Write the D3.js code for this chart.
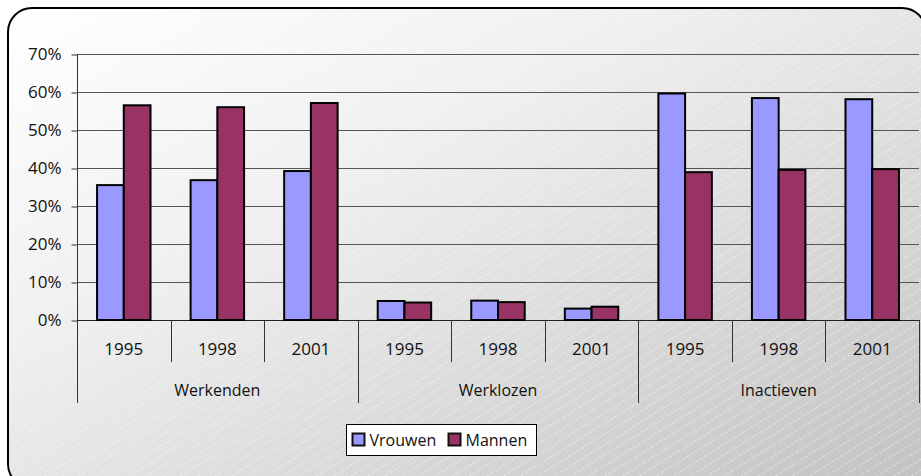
<!DOCTYPE html>
<html>
<head>
<meta charset="utf-8">
<script src="https://cdn.jsdelivr.net/npm/d3@7"></script>
<style>
  html, body { margin: 0; padding: 0; background: #fff; }
  svg { display: block; font-family: "Open Sans", sans-serif; }
</style>
</head>
<body>
<div id="chart"></div>
<script>
const width = 921;
const height = 476;

// Data
const groups = ["Werkenden", "Werklozen", "Inactieven"];
const years = ["1995", "1998", "2001"];
const seriesNames = ["Vrouwen", "Mannen"];
const vrouwen = [0.355, 0.368, 0.392, 0.050, 0.051, 0.030, 0.596, 0.584, 0.581];
const mannen = [0.565, 0.560, 0.571, 0.046, 0.047, 0.035, 0.389, 0.395, 0.397];
const yTicks = [0, 0.1, 0.2, 0.3, 0.4, 0.5, 0.6, 0.7];
const colors = ["#9999ff", "#993366"];

const plot = { left: 77, right: 919, top: 54, bottom: 320 };

// one entry per category (group x year)
const cats = [];
groups.forEach((g, gi) => years.forEach((y, yi) => {
    const i = gi * years.length + yi;
    cats.push({ key: g + "-" + y, group: g, year: y, values: [vrouwen[i], mannen[i]] });
}));

const svg = d3.select("#chart").append("svg")
    .attr("width", width)
    .attr("height", height);

const defs = svg.append("defs");

// background gradient
const grad = defs.append("linearGradient")
    .attr("id", "bg")
    .attr("x1", "0%").attr("y1", "0%")
    .attr("x2", "100%").attr("y2", "100%");
grad.append("stop").attr("offset", "0%").attr("stop-color", "#ffffff");
grad.append("stop").attr("offset", "35%").attr("stop-color", "#f0f0f0");
grad.append("stop").attr("offset", "100%").attr("stop-color", "#c2c2c2");

// faint diagonal dashed lines
const pat = defs.append("pattern")
    .attr("id", "hatch")
    .attr("patternUnits", "userSpaceOnUse")
    .attr("width", 40).attr("height", 9)
    .attr("patternTransform", "rotate(-32)");
pat.append("line")
    .attr("x1", 0).attr("y1", 4.5).attr("x2", 40).attr("y2", 4.5)
    .attr("stroke", "#ffffff")
    .attr("stroke-opacity", 0.55)
    .attr("stroke-width", 0.8)
    .attr("stroke-dasharray", "3,2");

// frame
svg.append("rect")
    .attr("x", 8).attr("y", 8)
    .attr("width", 918).attr("height", 480)
    .attr("rx", 24).attr("ry", 24)
    .attr("fill", "url(#bg)");
svg.append("rect")
    .attr("x", 8).attr("y", 8)
    .attr("width", 918).attr("height", 480)
    .attr("rx", 24).attr("ry", 24)
    .attr("fill", "url(#hatch)")
    .attr("stroke", "#000")
    .attr("stroke-width", 2);

// scales
const x0 = d3.scaleBand()
    .domain(cats.map(d => d.key))
    .range([plot.left, plot.right])
    .padding(0);

const x1 = d3.scaleBand()
    .domain(seriesNames)
    .range([0, x0.bandwidth()])
    .paddingInner(0)
    .paddingOuter(0.75);

const y = d3.scaleLinear()
    .domain([0, 0.7])
    .range([plot.bottom, plot.top]);

// gridlines
svg.append("g")
    .selectAll("line")
    .data(yTicks)
    .enter().append("line")
    .attr("x1", plot.left)
    .attr("x2", plot.right)
    .attr("y1", d => Math.round(y(d)) + 0.5)
    .attr("y2", d => Math.round(y(d)) + 0.5)
    .attr("stroke", "#555")
    .attr("stroke-width", 1);

// y axis
const yAxis = svg.append("g")
    .attr("transform", `translate(${plot.left + 0.5},0.5)`)
    .call(d3.axisLeft(y)
        .tickValues(yTicks)
        .tickFormat(d3.format(".0%"))
        .tickSize(6)
        .tickSizeOuter(0)
        .tickPadding(10));
yAxis.select(".domain").remove();
yAxis.selectAll(".tick line").attr("stroke", "#333");
yAxis.selectAll(".tick text")
    .style("font-size", "17px")
    .style("font-family", "'Open Sans', sans-serif")
    .attr("fill", "#111");

// vertical axis line, running down through the category labels
svg.append("line")
    .attr("x1", plot.left + 0.5).attr("x2", plot.left + 0.5)
    .attr("y1", plot.top).attr("y2", 403)
    .attr("stroke", "#333");

// x axis line
svg.append("line")
    .attr("x1", plot.left).attr("x2", plot.right)
    .attr("y1", plot.bottom + 0.5).attr("y2", plot.bottom + 0.5)
    .attr("stroke", "#222");

// bars
const catG = svg.append("g")
    .selectAll("g")
    .data(cats)
    .enter().append("g")
    .attr("transform", d => `translate(${x0(d.key)},0)`);

catG.selectAll("rect")
    .data(d => d.values.map((v, i) => ({ name: seriesNames[i], value: v, i })))
    .enter().append("rect")
    .attr("x", d => x1(d.name))
    .attr("y", d => y(d.value))
    .attr("width", x1.bandwidth())
    .attr("height", d => y(0) - y(d.value))
    .attr("fill", d => colors[d.i])
    .attr("stroke", "#000")
    .attr("stroke-width", 2);

// category separators
const seps = d3.range(1, cats.length + 1);
svg.append("g")
    .selectAll("line")
    .data(seps)
    .enter().append("line")
    .attr("x1", i => Math.round(plot.left + i * x0.step()) + 0.5)
    .attr("x2", i => Math.round(plot.left + i * x0.step()) + 0.5)
    .attr("y1", plot.bottom)
    .attr("y2", i => i % years.length === 0 ? 403 : 362)
    .attr("stroke", "#333");

// year labels
svg.append("g")
    .selectAll("text")
    .data(cats)
    .enter().append("text")
    .attr("x", d => x0(d.key) + x0.bandwidth() / 2)
    .attr("y", 355)
    .attr("text-anchor", "middle")
    .style("font-size", "17px")
    .attr("fill", "#111")
    .text(d => d.year);

// group labels
svg.append("g")
    .selectAll("text")
    .data(groups)
    .enter().append("text")
    .attr("x", g => {
        const first = x0(g + "-" + years[0]);
        const last = x0(g + "-" + years[years.length - 1]) + x0.bandwidth();
        return (first + last) / 2;
    })
    .attr("y", 396)
    .attr("text-anchor", "middle")
    .style("font-size", "16px")
    .attr("fill", "#111")
    .text(g => g);

// legend
const legend = svg.append("g").attr("transform", "translate(346.5,424.5)");
legend.append("rect")
    .attr("width", 190)
    .attr("height", 31)
    .attr("fill", "#fff")
    .attr("stroke", "#000")
    .attr("stroke-width", 1);

const legendX = [6, 102];
const item = legend.selectAll(".item")
    .data(seriesNames)
    .enter().append("g")
    .attr("class", "item")
    .attr("transform", (d, i) => `translate(${legendX[i]},0)`);

item.append("rect")
    .attr("x", 0)
    .attr("y", 9)
    .attr("width", 12)
    .attr("height", 12)
    .attr("fill", (d, i) => colors[i])
    .attr("stroke", "#111")
    .attr("stroke-width", 2);

item.append("text")
    .attr("x", 17)
    .attr("y", 21)
    .style("font-size", "16px")
    .attr("fill", "#111")
    .text(d => d);
</script>
</body>
</html>
